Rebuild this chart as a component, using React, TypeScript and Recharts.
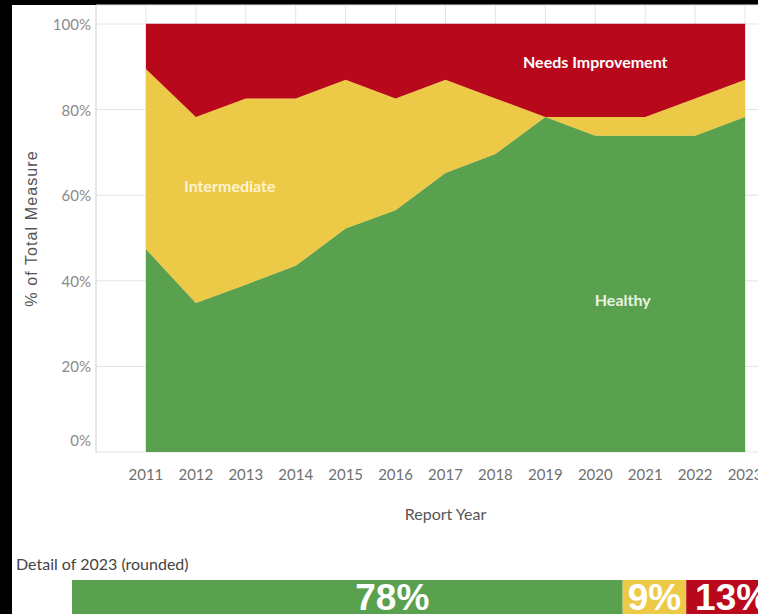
import React from 'react';
import {
  AreaChart, Area, XAxis, YAxis, CartesianGrid, ReferenceDot,
  BarChart, Bar, LabelList,
} from 'recharts';

const years = [2011, 2012, 2013, 2014, 2015, 2016, 2017, 2018, 2019, 2020, 2021, 2022, 2023];
const healthy = [47.4, 34.8, 39.1, 43.5, 52.2, 56.5, 65.2, 69.6, 78.3, 73.9, 73.9, 73.9, 78.3];
const intermediate = [42.1, 43.5, 43.5, 39.1, 34.8, 26.1, 21.8, 13.0, 0, 4.4, 4.4, 8.7, 8.7];
const needsImprovement = [10.5, 21.7, 17.4, 17.4, 13.0, 17.4, 13.0, 17.4, 21.7, 21.7, 21.7, 17.4, 13.0];
const yTicks = [0, 20, 40, 60, 80, 100];

const detailYear = '2023';
const detailValues = [78, 9, 13];

const GREEN = '#59a14f';
const YELLOW = '#edc948';
const RED = '#b8081c';

const areaData = years.map((y, i) => ({
  year: y,
  healthy: healthy[i],
  intermediate: intermediate[i],
  needs: needsImprovement[i],
}));

const detailData = [{
  name: detailYear,
  healthy: detailValues[0],
  intermediate: detailValues[1],
  needs: detailValues[2],
}];

const FONT = 'Lato, "Open Sans", sans-serif';

const YTick = (props: any) => {
  const { x, y, payload } = props;
  const shift = payload.value === 0 ? -12 : 0;
  return (
    <text x={x} y={y + shift} textAnchor="end" dominantBaseline="central"
      fontSize={15} fill="#8a8a8a" fontFamily={FONT}>
      {payload.value}%
    </text>
  );
};

const makeBarLabel = (dx: number) => (props: any) => {
  const { x, y, width, height, value } = props;
  return (
    <text x={Number(x) + Number(width) / 2 + dx} y={Number(y) + Number(height) / 2}
      textAnchor="middle" dominantBaseline="central" fill="#ffffff"
      fontSize={37} fontWeight="bold" fontFamily='"Liberation Sans", Arial, sans-serif'>
      {value}%
    </text>
  );
};

export default function App() {
  return (
    <div style={{ position: 'fixed', left: 0, top: 0, width: 758, height: 614, overflow: 'hidden', background: '#000' }}>
      <div style={{ position: 'absolute', left: 12, top: 5, width: 746, height: 609, background: '#fff' }} />
      <div style={{ position: 'absolute', left: 0, top: 0 }}>
        <AreaChart width={820} height={540} data={areaData}
          margin={{ top: 5, right: 25, bottom: 0, left: 0 }}>
          <CartesianGrid stroke="#e4e4e4" />
          <XAxis dataKey="year" type="number" domain={[2010, 2024]} ticks={years}
            axisLine={false} tickLine={false} tickSize={0} tickMargin={17} height={88}
            tick={{ fontSize: 15, fill: '#707070', fontFamily: FONT }}
            label={{
              value: 'Report Year',
              content: (p: any) => (
                <text x={p.viewBox.x + p.viewBox.width / 2} y={513} textAnchor="middle"
                  dominantBaseline="central" fontSize={16} fill="#555" fontFamily={FONT}>
                  Report Year
                </text>
              ),
            }} />
          <YAxis type="number" domain={[0, 104.44]} ticks={yTicks} allowDataOverflow
            width={96} axisLine={{ stroke: '#dcdcdc' }} tickLine={false} tickSize={0} tickMargin={5}
            tick={<YTick />}
            label={{
              value: '% of Total Measure',
              content: (p: any) => {
                const cy = p.viewBox.y + p.viewBox.height / 2;
                return (
                  <text x={31} y={cy} transform={`rotate(-90 31 ${cy})`} textAnchor="middle"
                    dominantBaseline="central" fontSize={16} letterSpacing={1.1} fill="#555"
                    fontFamily='"Liberation Sans", Arial, sans-serif'>
                    % of Total Measure
                  </text>
                );
              },
            }} />
          <Area type="linear" dataKey="healthy" stackId="s" fill={GREEN} fillOpacity={1}
            stroke={GREEN} strokeWidth={0.5} dot={false} activeDot={false} isAnimationActive={false} />
          <Area type="linear" dataKey="intermediate" stackId="s" fill={YELLOW} fillOpacity={1}
            stroke={YELLOW} strokeWidth={0.5} dot={false} activeDot={false} isAnimationActive={false} />
          <Area type="linear" dataKey="needs" stackId="s" fill={RED} fillOpacity={1}
            stroke={RED} strokeWidth={0.5} dot={false} activeDot={false} isAnimationActive={false} />
          <ReferenceDot x={2020} y={91.1} r={0} fill="none" stroke="none"
            label={{ value: 'Needs Improvement', position: 'center', fill: '#ffffff', fontSize: 16, fontWeight: 700, fontFamily: FONT }} />
          <ReferenceDot x={2012.68} y={62.1} r={0} fill="none" stroke="none"
            label={{ value: 'Intermediate', position: 'center', fill: '#fdf3d0', fontSize: 16, fontWeight: 700, fontFamily: FONT }} />
          <ReferenceDot x={2020.55} y={35.5} r={0} fill="none" stroke="none"
            label={{ value: 'Healthy', position: 'center', fill: '#e8f3e2', fontSize: 16, fontWeight: 700, fontFamily: FONT }} />
        </AreaChart>
      </div>
      <div style={{ position: 'absolute', left: 16, top: 553, fontSize: 16, lineHeight: '22px', color: '#444', fontFamily: FONT }}>
        Detail of {detailYear} (rounded)
      </div>
      <div style={{ position: 'absolute', left: 72, top: 580 }}>
        <BarChart width={706} height={34} data={detailData} layout="vertical"
          margin={{ top: 0, right: 0, bottom: 0, left: 0 }} barCategoryGap={0}>
          <XAxis type="number" domain={[0, 100]} hide />
          <YAxis type="category" dataKey="name" hide width={0} />
          <Bar dataKey="healthy" stackId="d" fill={GREEN} isAnimationActive={false}>
            <LabelList dataKey="healthy" content={makeBarLabel(45)} />
          </Bar>
          <Bar dataKey="intermediate" stackId="d" fill={YELLOW} isAnimationActive={false}>
            <LabelList dataKey="intermediate" content={makeBarLabel(0)} />
          </Bar>
          <Bar dataKey="needs" stackId="d" fill={RED} isAnimationActive={false}>
            <LabelList dataKey="needs" content={makeBarLabel(0)} />
          </Bar>
        </BarChart>
      </div>
    </div>
  );
}
